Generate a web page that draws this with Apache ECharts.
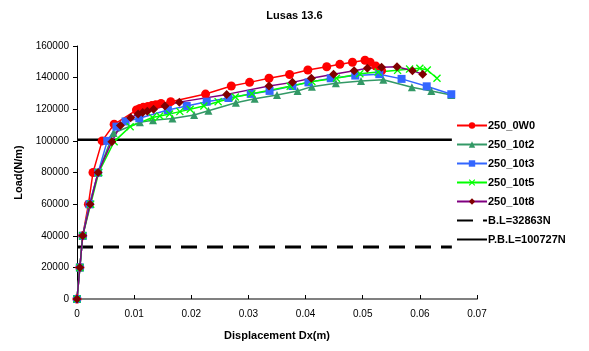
<!DOCTYPE html>
<html><head><meta charset="utf-8">
<script src="https://cdn.jsdelivr.net/npm/echarts@6/dist/echarts.min.js"></script>
<style>html,body{margin:0;padding:0;background:#fff}#c{width:589px;height:351px}</style>
</head><body><div id="c"></div>
<script>
const xTicks = [0, 0.01, 0.02, 0.03, 0.04, 0.05, 0.06, 0.07];
const yTicks = [0, 20000, 40000, 60000, 80000, 100000, 120000, 140000, 160000];

const s0W0 = [[0,0],[0.0005,20000],[0.001,40000],[0.002,60000],[0.0028,80000],[0.0044,100000],[0.0065,110500],[0.0104,119500],[0.0110,120500],[0.0116,121200],[0.0124,121800],[0.0131,122300],[0.0138,122900],[0.0147,123700],[0.0164,124800],[0.0225,129600],[0.0270,134700],[0.0302,137000],[0.0336,139600],[0.0372,142000],[0.0404,144800],[0.0437,146900],[0.0460,148400],[0.0482,149700],[0.0504,151000],[0.0513,149700],[0.0523,147300],[0.0533,144400]];
const s10t2 = [[0,0],[0.0005,20000],[0.001,40000],[0.0022,60000],[0.0037,80000],[0.0064,105000],[0.0110,111800],[0.0133,113000],[0.0167,114200],[0.0205,116400],[0.0230,119100],[0.0278,124100],[0.0311,126600],[0.0350,129000],[0.0386,131500],[0.0411,134300],[0.0453,136400],[0.0497,137900],[0.0536,138700],[0.0586,133900],[0.0620,131500],[0.0655,129000]];
const s10t3 = [[0,0],[0.0005,20000],[0.001,40000],[0.0022,60000],[0.0037,80000],[0.0053,100000],[0.0069,109000],[0.0085,112300],[0.0109,114300],[0.0159,119500],[0.0192,122100],[0.0227,124800],[0.0265,127100],[0.0304,129700],[0.0337,131600],[0.0377,134700],[0.0405,137000],[0.0444,139600],[0.0487,141300],[0.0529,142200],[0.0568,139200],[0.0612,134500],[0.0655,129500]];
const s10t5 = [[0,0],[0.0005,20000],[0.001,40000],[0.0024,60000],[0.0038,80000],[0.0065,99500],[0.0093,109000],[0.0132,114800],[0.0145,115700],[0.0162,117000],[0.0180,118500],[0.0198,120000],[0.0222,122100],[0.0247,124800],[0.0277,127700],[0.0306,129800],[0.0373,134500],[0.0411,137500],[0.0454,139600],[0.0495,142500],[0.0527,143500],[0.0561,144600],[0.0582,145400],[0.0600,145900],[0.0613,144800],[0.0630,139600]];
const s10t8 = [[0,0],[0.0005,20000],[0.001,40000],[0.0023,60000],[0.0037,80000],[0.0061,99500],[0.0076,109700],[0.0094,114700],[0.0107,117000],[0.0115,118000],[0.0123,118700],[0.0134,120000],[0.0154,122100],[0.0179,124500],[0.0262,129400],[0.0336,134700],[0.0377,137000],[0.0410,139600],[0.0449,142100],[0.0485,144400],[0.0508,145900],[0.0533,146500],[0.0560,146900],[0.0587,144400],[0.0605,142100]];
const BL = 32863;
const PBL = 100727;
const refLineEnd = 0.0656;

const font = 'Liberation Sans, Arial, sans-serif';
const xSym = 'path://M0,1.2L1.2,0L5,3.8L8.8,0L10,1.2L6.2,5L10,8.8L8.8,10L5,6.2L1.2,10L0,8.8L3.8,5Z';

function lineSeries(name, data, color, symbol, size, markerColor) {
  return {
    name, type: 'line', data, symbol, symbolSize: size,
    lineStyle: { color, width: 1.5 },
    itemStyle: { color: markerColor || color },
    emphasis: { disabled: true }, animation: false
  };
}

const chart = echarts.init(document.getElementById('c'));
chart.setOption({
  animation: false,
  title: { text: 'Lusas 13.6', left: 'center', top: 5, textStyle: { fontFamily: font, fontSize: 11, fontWeight: 'bold', color: '#000' } },
  grid: { left: 77, right: 112, top: 46, bottom: 52 },
  legend: {
    orient: 'vertical', left: 451, top: 115, itemGap: 8, itemWidth: 30, itemHeight: 8,
    textStyle: { fontFamily: font, fontSize: 11, fontWeight: 'bold', color: '#000', padding: [0,0,0,-4] },
    data: ['250_0W0','250_10t2','250_10t3','250_10t5','250_10t8',
      { name: 'B.L=32863N', itemStyle: { opacity: 0 } },
      { name: 'P.B.L=100727N', itemStyle: { opacity: 0 } }]
  },
  xAxis: {
    type: 'value', min: 0, max: 0.07, interval: 0.01,
    name: 'Displacement Dx(m)', nameLocation: 'middle', nameGap: 31,
    nameTextStyle: { fontFamily: font, fontSize: 11, fontWeight: 'bold', color: '#000' },
    axisLine: { lineStyle: { color: '#808080', width: 2 } },
    axisTick: { inside: true, length: 4, lineStyle: { color: '#000' } },
    axisLabel: { fontFamily: font, fontSize: 10, color: '#000', margin: 10, formatter: v => String(+v.toFixed(2)) },
    splitLine: { show: false }
  },
  yAxis: {
    type: 'value', min: 0, max: 160000, interval: 20000,
    name: 'Load(N/m)', nameLocation: 'middle', nameGap: 50,
    nameTextStyle: { fontFamily: font, fontSize: 11, fontWeight: 'bold', color: '#000' },
    axisLine: { show: true, lineStyle: { color: '#000', width: 1 } },
    axisTick: { show: true, length: 4, lineStyle: { color: '#000' } },
    axisLabel: { fontFamily: font, fontSize: 10, color: '#000', margin: 8, formatter: v => String(v) },
    splitLine: { show: false }
  },
  series: [
    { name: 'B.L=32863N', type: 'line', data: [[0, BL], [refLineEnd, BL]], symbol: 'none',
      lineStyle: { color: '#000', width: 3, type: [16, 10] }, itemStyle: { color: '#000' }, animation: false },
    { name: 'P.B.L=100727N', type: 'line', data: [[0, PBL], [refLineEnd, PBL]], symbol: 'none',
      lineStyle: { color: '#000', width: 2.5 }, itemStyle: { color: '#000' }, animation: false },
    lineSeries('250_0W0', s0W0, '#FF0000', 'circle', 9),
    lineSeries('250_10t2', s10t2, '#339966', 'triangle', 8),
    lineSeries('250_10t3', s10t3, '#3366FF', 'rect', 8),
    lineSeries('250_10t5', s10t5, '#00FF00', xSym, 8),
    lineSeries('250_10t8', s10t8, '#800080', 'diamond', 9, '#800000')
  ]
});
</script></body></html>
